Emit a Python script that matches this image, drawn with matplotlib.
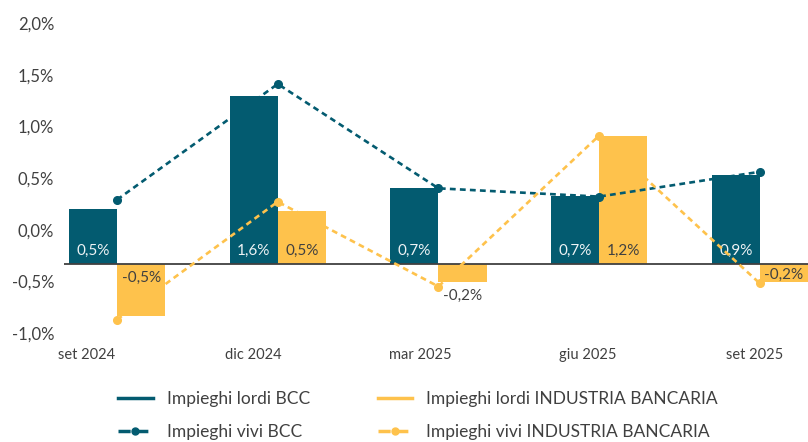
import matplotlib

matplotlib.use("Agg")

import matplotlib.pyplot as plt
import numpy as np
from matplotlib.lines import Line2D

# data (percent)
categories = ["set 2024", "dic 2024", "mar 2025", "giu 2025", "set 2025"]
lordi_bcc = [0.53, 1.62, 0.73, 0.66, 0.86]
lordi_industria = [-0.51, 0.51, -0.18, 1.24, -0.18]
vivi_bcc = [0.29, 1.41, 0.40, 0.32, 0.56]
vivi_industria = [-0.87, 0.27, -0.55, 0.91, -0.52]
y_ticks = [-1.0, -0.5, 0.0, 0.5, 1.0, 1.5, 2.0]

BAR_BASE = -0.33  # bars hang from this level, as in the original
TEAL = "#035b70"
GOLD = "#fec24c"
TEXT = "#404040"

plt.rcParams["font.family"] = ["Lato", "DejaVu Sans"]


def pct(v):
    return f"{v:.1f}%".replace(".", ",")


fig = plt.figure(figsize=(8.08, 4.42), dpi=100)
ax = fig.add_axes([64 / 808, 1 - 333 / 442, 1 - 64 / 808, 310 / 442])

x = np.arange(len(categories))
w = 0.3
ax.bar(x - w / 2, lordi_bcc, w, bottom=BAR_BASE, color=TEAL, zorder=2)
ax.bar(x + w / 2, lordi_industria, w, bottom=BAR_BASE, color=GOLD, zorder=2)
ax.axhline(BAR_BASE, color=TEXT, lw=1.3, zorder=3)

# value labels
for i, v in enumerate(lordi_bcc):
    ax.annotate(pct(v), (x[i] - w / 2, BAR_BASE), xytext=(0, 9.5), textcoords="offset points",
                ha="center", va="center", color="#eef3f5", fontsize=11, zorder=4)
neg_offset = {2: -23, 4: -8}
for i, v in enumerate(lordi_industria):
    dy = 9.5 if v > 0 else neg_offset.get(i, -10.5)
    ax.annotate(pct(v), (x[i] + w / 2, BAR_BASE), xytext=(0, dy), textcoords="offset points",
                ha="center", va="center", color=TEXT, fontsize=11, zorder=4)

dash = (0, (2.2, 1.6))
ax.plot(x, vivi_bcc, color=TEAL, lw=1.9, ls=dash, marker="o", ms=5.5, zorder=5)
ax.plot(x, vivi_industria, color=GOLD, lw=1.9, ls=dash, marker="o", ms=5.5, zorder=5)

ax.set_xlim(-0.33, 4.30)
ax.set_ylim(-1.0, 2.0)
ax.set_yticks(y_ticks)
ax.set_yticklabels([pct(t) for t in y_ticks])
ax.set_xticks(x * 1.04 - 0.19)
ax.set_xticklabels(categories)
ax.tick_params(axis="y", length=0, pad=7, labelsize=12, labelcolor=TEXT)
ax.tick_params(axis="x", length=0, pad=11, labelsize=10.5, labelcolor=TEXT)
for s in ax.spines.values():
    s.set_visible(False)

handles = [
    Line2D([], [], color=TEAL, lw=2.5),
    Line2D([], [], color=TEAL, lw=2.5, ls=(0, (3.5, 1.6)), marker="o", ms=5),
    Line2D([], [], color=GOLD, lw=2.5),
    Line2D([], [], color=GOLD, lw=2.5, ls=(0, (3.5, 1.6)), marker="o", ms=5),
]
labels = ["Impieghi lordi BCC", "Impieghi vivi BCC",
          "Impieghi lordi INDUSTRIA BANCARIA", "Impieghi vivi INDUSTRIA BANCARIA"]
fig.legend(handles, labels, ncol=2, frameon=False, loc="upper left",
           bbox_to_anchor=(118 / 808, 1 - 391 / 442), borderpad=0, borderaxespad=0,
           fontsize=12.5, handlelength=2.0, handletextpad=0.8, columnspacing=3.9,
           labelspacing=1.0, labelcolor=TEXT, numpoints=1)

fig.savefig("out.png", dpi=100)
